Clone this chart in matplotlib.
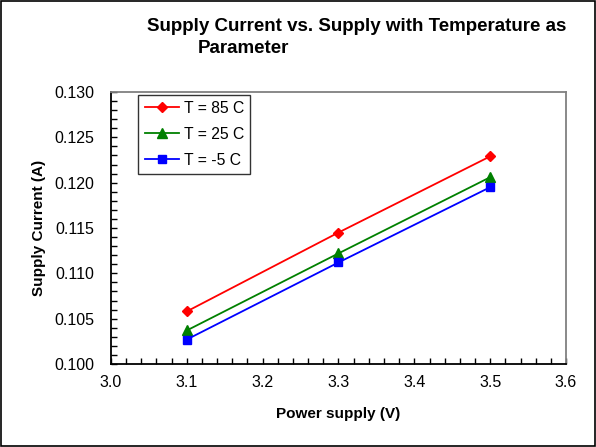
import matplotlib
matplotlib.use('Agg')
import matplotlib.pyplot as plt
from matplotlib.ticker import MultipleLocator, FormatStrFormatter
from matplotlib.patches import Rectangle

plt.rcParams['font.family'] = ['Liberation Sans', 'DejaVu Sans']

voltage = [3.1, 3.3, 3.5]
i_85 = [0.1058, 0.1145, 0.1229]
i_25 = [0.1037, 0.1122, 0.1206]
i_m5 = [0.1027, 0.1112, 0.1195]

fig = plt.figure(figsize=(5.96, 4.47), dpi=100)
ax = fig.add_axes([0.1862, 0.1857, 0.7635, 0.6085])

ax.plot(voltage, i_85, color='red', marker='D', markersize=5, lw=1.3, label='T = 85 C')
ax.plot(voltage, i_25, color='green', marker='^', markersize=7, lw=1.3, label='T = 25 C')
ax.plot(voltage, i_m5, color='blue', marker='s', markersize=6, lw=1.3, label='T = -5 C')

ax.set_xlim(3.0, 3.6)
ax.set_ylim(0.100, 0.130)
ax.xaxis.set_major_locator(MultipleLocator(0.1))
ax.xaxis.set_minor_locator(MultipleLocator(0.02))
ax.yaxis.set_major_locator(MultipleLocator(0.005))
ax.yaxis.set_minor_locator(MultipleLocator(0.001))
ax.xaxis.set_major_formatter(FormatStrFormatter('%.1f'))
ax.yaxis.set_major_formatter(FormatStrFormatter('%.3f'))
ax.tick_params(which='both', direction='in', length=4, width=1, labelsize=11.5,
               top=False, right=False)
ax.tick_params(axis='x', pad=8)
ax.tick_params(axis='y', pad=12)

for s in ['left', 'bottom']:
    ax.spines[s].set_color('black')
    ax.spines[s].set_linewidth(1.3)
for s in ['top', 'right']:
    ax.spines[s].set_color('#808080')
    ax.spines[s].set_linewidth(1.3)

ax.set_xlabel('Power supply (V)', fontsize=11, fontweight='bold', labelpad=12)
ax.set_ylabel('Supply Current (A)', fontsize=11, fontweight='bold', labelpad=6)

fig.text(0.247, 0.940, 'Supply Current vs. Supply with Temperature as',
         fontsize=13.5, fontweight='bold', va='center', ha='left')
fig.text(0.331, 0.891, 'Parameter', fontsize=13.5, fontweight='bold', va='center', ha='left')

leg = ax.legend(loc='upper left', bbox_to_anchor=(0.06, 0.99), fontsize=11.3,
                frameon=True, fancybox=False, handlelength=2.2, borderpad=0.4,
                labelspacing=0.7, handletextpad=0.3, borderaxespad=0.0)
leg.get_frame().set_edgecolor('black')
leg.get_frame().set_linewidth(1.0)

fig.patches.append(Rectangle((0.002, 0.002), 0.996, 0.996, transform=fig.transFigure,
                             fill=False, edgecolor='black', lw=1.2))

fig.savefig('out.png', dpi=100)
